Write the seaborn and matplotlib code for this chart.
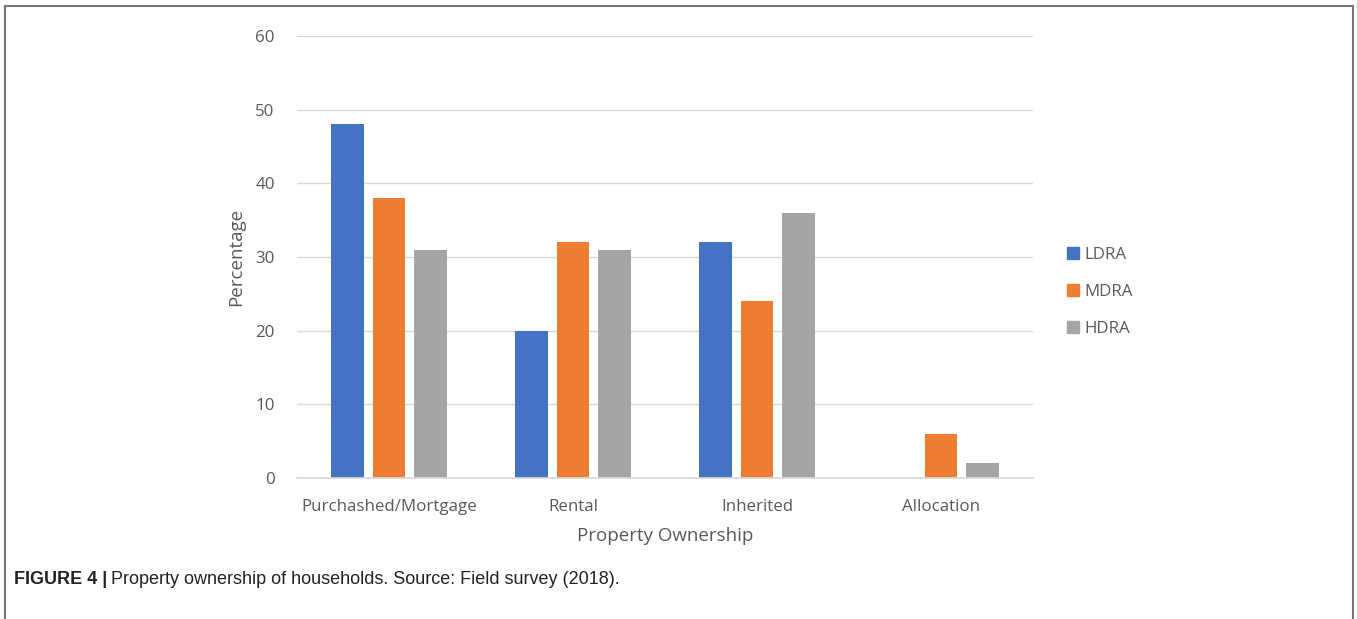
import matplotlib
matplotlib.use("Agg")
import matplotlib.pyplot as plt
import seaborn as sns
import pandas as pd
from matplotlib.patches import Rectangle

categories = ["Purchashed/Mortgage", "Rental", "Inherited", "Allocation"]
series = ["LDRA", "MDRA", "HDRA"]
ldra = [48, 20, 32, 0]
mdra = [38, 32, 24, 6]
hdra = [31, 31, 36, 2]
colors = ["#4472C4", "#ED7D31", "#A5A5A5"]

rows = []
for s, vals in zip(series, [ldra, mdra, hdra]):
    for c, v in zip(categories, vals):
        rows.append({"cat": c, "series": s, "val": v})
df = pd.DataFrame(rows)

sns.set_theme(style="white")
plt.rcParams['font.family'] = ['Open Sans', 'DejaVu Sans']

fig = plt.figure(figsize=(13.57, 6.19), dpi=100)
ax = fig.add_axes([297/1357, 1-478/619, 736/1357, 442/619])

sns.barplot(data=df, x="cat", y="val", hue="series", order=categories,
            hue_order=series, palette=colors, width=0.67, gap=0.2,
            saturation=1, ax=ax, legend=False, linewidth=0, edgecolor="none")

ax.set_ylim(0, 60)
ax.set_yticks(range(0, 61, 10))
ax.set_xlim(-0.5, 3.5)
ax.grid(axis="y", color="#D9D9D9", linewidth=1)
ax.set_axisbelow(True)
for sp in ["left", "right", "top"]:
    ax.spines[sp].set_visible(False)
ax.spines["bottom"].set_color("#D9D9D9")
ax.tick_params(axis="both", length=0, labelsize=12.2, colors="#595959")
ax.tick_params(axis="y", pad=16)
ax.tick_params(axis="x", pad=15)
ax.set_xlabel("Property Ownership", fontsize=13.5, color="#595959", labelpad=9)
ax.set_ylabel("Percentage", fontsize=13.5, color="#595959", labelpad=7)

handles = [Rectangle((0, 0), 1, 1, color=c) for c in colors]
leg = fig.legend(handles, series, loc="center left", bbox_to_anchor=(1052/1357, 1-292/619),
                 frameon=False, fontsize=12.2, handlelength=0.7, handleheight=0.7,
                 labelspacing=1.22, handletextpad=0.3)
for t in leg.get_texts():
    t.set_color("#595959")

# frame
fig.patches.append(Rectangle((5/1357, -0.01), 1348/1357, 1 - 6/619 + 0.01,
                             transform=fig.transFigure, fill=False,
                             edgecolor="#777777", linewidth=1.5))

cap_font = ["Liberation Sans Narrow", "Liberation Sans", "DejaVu Sans"]
t1 = fig.text(14/1357, 1-580/619, "FIGURE 4 |", fontsize=13, fontweight="bold",
              family=cap_font, color="#222222", va="center")
fig.canvas.draw()
bb = t1.get_window_extent(renderer=fig.canvas.get_renderer())
fig.text((bb.x1 + 4)/1357, 1-580/619,
         "Property ownership of households. Source: Field survey (2018).",
         fontsize=13, family=cap_font, color="#222222", va="center")

fig.savefig("out.png", dpi=100)
